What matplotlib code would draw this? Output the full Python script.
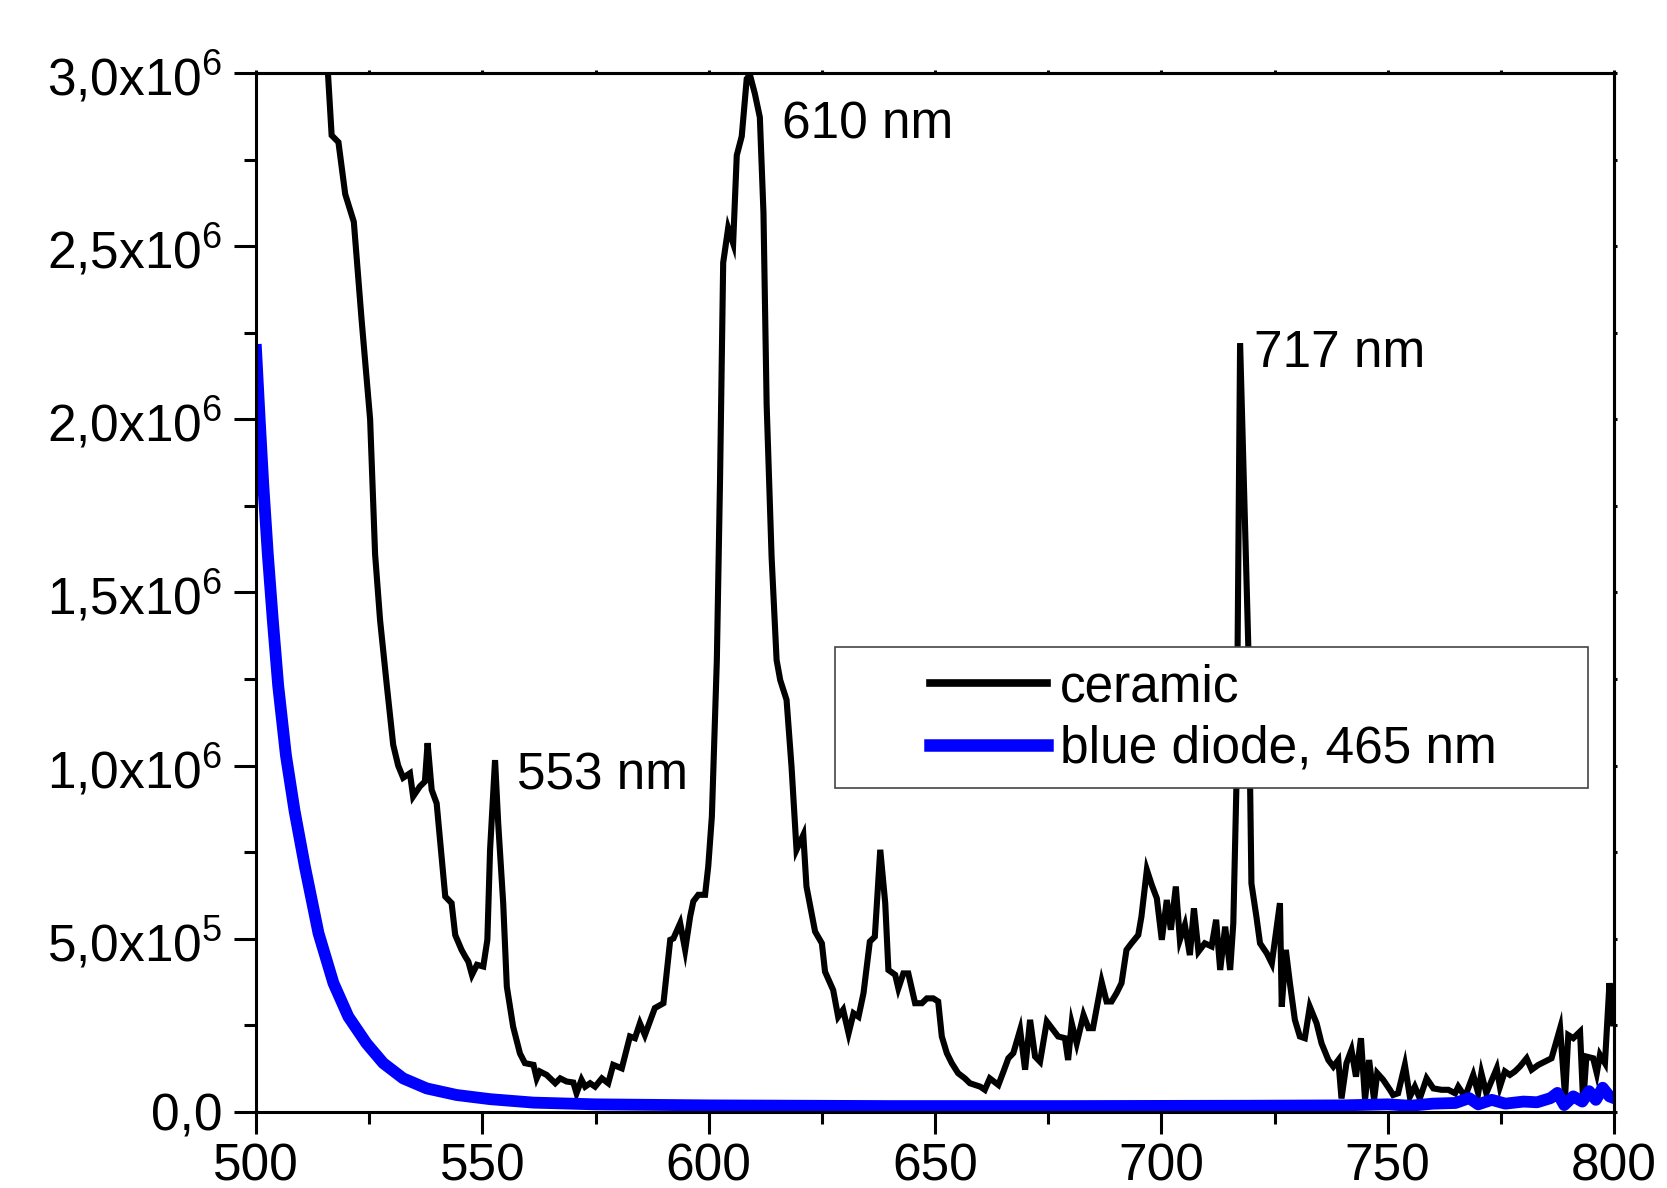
import matplotlib
matplotlib.use("Agg")
import matplotlib.pyplot as plt
from matplotlib.patches import Rectangle
from matplotlib.ticker import MultipleLocator

plt.rcParams['font.family'] = ['Liberation Sans', 'DejaVu Sans']
plt.rcParams['mathtext.default'] = 'regular'

# ---------------- data (intensity in units of 10^6 counts) ----------------
ceramic_nm = [505, 510, 513, 515.2, 516.7, 518.2, 519.7, 521.6, 523.3, 525.2, 526.3, 527.4,
              528.9, 530.3, 531.4, 532.5, 534.0, 534.7, 536.2, 537.3, 537.9, 538.8, 539.9,
              541.8, 543.2, 544.0, 545.4, 546.2, 546.9, 547.7, 548.8, 550.2, 551.1, 551.7,
              552.8, 553.5, 554.6, 555.4, 556.8, 558.3, 559.4, 561.3, 562.0, 562.7, 564.2,
              566.1, 567.2, 568.6, 570.1, 570.8, 571.9, 572.7, 573.8, 574.9, 576.4, 577.8,
              578.9, 580.8, 582.6, 583.7, 584.8, 585.9, 588.1, 590.0, 591.5, 592.2, 593.7,
              594.8, 595.9, 596.6, 597.7, 599.2, 599.9, 600.7, 601.4, 601.8, 602.5, 603.2,
              604.3, 605.4, 606.2, 607.3, 608.4, 609.1, 610.2, 611.3, 612.1, 612.8, 613.9,
              615.0, 615.8, 617.2, 618.3, 619.4, 620.9, 621.6, 623.5, 625.0, 625.7, 627.5,
              628.6, 629.7, 630.9, 632.0, 633.1, 634.2, 635.6, 636.7, 637.9, 639.0, 639.7,
              641.2, 641.9, 643.0, 644.1, 645.6, 647.1, 648.2, 649.6, 650.7, 651.5, 652.6,
              653.7, 655.1, 656.6, 657.7, 660.0, 661.0, 662.1, 664.0, 665.1, 666.2, 667.3,
              668.8, 669.9, 671.0, 672.1, 673.2, 674.7, 675.8, 677.2, 678.7, 679.4, 680.2,
              681.3, 682.8, 683.9, 684.9, 686.8, 687.9, 689.0, 690.1, 691.2, 692.3, 693.4,
              694.9, 695.6, 696.8, 697.9, 699.0, 700.1, 701.2, 702.1, 703.2, 704.1, 705.2,
              706.3, 707.2, 708.2, 709.6, 711.1, 712.1, 713.0, 714.1, 715.2, 715.9, 716.6,
              717.4, 719.2, 719.9, 721.0, 721.8, 723.3, 724.4, 726.2, 726.6, 727.5, 728.4,
              729.5, 730.6, 731.7, 732.8, 734.3, 735.4, 736.9, 738.0, 739.1, 739.8, 740.9,
              742.0, 743.0, 744.1, 745.0, 745.9, 747.0, 747.7, 749.0, 750.5, 751.2, 752.3,
              753.8, 754.9, 756.0, 757.1, 758.6, 760.1, 761.9, 763.4, 764.9, 765.6, 767.1,
              768.9, 770.0, 770.7, 771.8, 774.1, 774.8, 775.9, 777.0, 778.1, 779.2, 780.7,
              781.8, 783.3, 784.7, 786.2, 788.1, 789.2, 789.9, 791.0, 792.5, 793.2, 793.9,
              795.4, 796.2, 796.9, 798.0, 799.0, 799.8]
ceramic_mcounts = [4.6, 4.0, 3.6, 3.15, 2.82, 2.80, 2.65, 2.57, 2.29, 2.00, 1.61, 1.42,
                   1.23, 1.06, 1.00, 0.965, 0.978, 0.911, 0.94, 0.954, 1.065, 0.93, 0.891,
                   0.622, 0.603, 0.511, 0.468, 0.449, 0.434, 0.396, 0.425, 0.420, 0.497, 0.757,
                   1.016, 0.833, 0.603, 0.362, 0.246, 0.169, 0.141, 0.136, 0.097, 0.117, 0.107,
                   0.083, 0.097, 0.088, 0.085, 0.054, 0.093, 0.073, 0.083, 0.073, 0.097, 0.083,
                   0.136, 0.126, 0.218, 0.213, 0.256, 0.222, 0.300, 0.314, 0.497, 0.501, 0.545,
                   0.468, 0.564, 0.608, 0.627, 0.627, 0.709, 0.853, 1.142, 1.305, 1.822, 2.452,
                   2.552, 2.508, 2.762, 2.817, 2.983, 2.995, 2.94, 2.872, 2.596, 2.043, 1.601,
                   1.305, 1.247, 1.190, 0.997, 0.757, 0.800, 0.651, 0.521, 0.487, 0.405, 0.352,
                   0.275, 0.295, 0.227, 0.285, 0.275, 0.343, 0.492, 0.506, 0.757, 0.603, 0.410,
                   0.396, 0.357, 0.400, 0.400, 0.314, 0.314, 0.328, 0.328, 0.319, 0.218, 0.170,
                   0.141, 0.112, 0.097, 0.083, 0.073, 0.064, 0.097, 0.078, 0.116, 0.155, 0.170,
                   0.237, 0.122, 0.266, 0.160, 0.145, 0.261, 0.242, 0.218, 0.213, 0.150, 0.256,
                   0.198, 0.280, 0.242, 0.242, 0.376, 0.319, 0.319, 0.343, 0.372, 0.468, 0.487,
                   0.511, 0.564, 0.699, 0.655, 0.617, 0.497, 0.612, 0.526, 0.651, 0.497, 0.540,
                   0.453, 0.588, 0.463, 0.487, 0.478, 0.555, 0.410, 0.535, 0.410, 0.545, 0.95,
                   2.22, 1.35, 0.66, 0.564, 0.487, 0.458, 0.429, 0.603, 0.304, 0.468, 0.372,
                   0.266, 0.218, 0.213, 0.304, 0.256, 0.198, 0.150, 0.131, 0.150, 0.039, 0.141,
                   0.179, 0.102, 0.213, 0.035, 0.150, 0.035, 0.112, 0.093, 0.064, 0.049, 0.054,
                   0.136, 0.044, 0.073, 0.039, 0.097, 0.068, 0.064, 0.064, 0.054, 0.073, 0.044,
                   0.107, 0.054, 0.112, 0.054, 0.126, 0.073, 0.117, 0.107, 0.117, 0.131, 0.155,
                   0.122, 0.136, 0.145, 0.155, 0.242, 0.044, 0.222, 0.213, 0.232, 0.025, 0.160,
                   0.155, 0.112, 0.165, 0.141, 0.372, 0.256]

blue_nm = [500, 500.8, 501.6, 502.6, 503.7, 504.9, 506.6, 508.5, 510.8, 513.8, 517.1, 520.4,
           524.4, 528.1, 532.5, 537.7, 544.3, 551.7, 561.3, 575, 600, 640, 680, 720, 740,
           750, 755, 760, 765, 768, 770, 773, 776, 780, 783, 786, 787.5, 789, 791, 793,
           794.5, 796, 797.5, 799, 800]
blue_mcounts = [2.20, 2.00, 1.81, 1.61, 1.42, 1.23, 1.03, 0.87, 0.708, 0.516, 0.372, 0.275,
                0.198, 0.141, 0.097, 0.068, 0.049, 0.037, 0.027, 0.022, 0.019, 0.017, 0.017,
                0.018, 0.019, 0.022, 0.018, 0.024, 0.026, 0.040, 0.022, 0.035, 0.024, 0.030,
                0.028, 0.040, 0.055, 0.020, 0.045, 0.030, 0.060, 0.035, 0.070, 0.045, 0.040]

series_labels = ['ceramic', 'blue diode, 465 nm']
peak_labels = ['553 nm', '610 nm', '717 nm']
peak_label_pos_nm = [557.6, 616.2, 720.5]
peak_label_pos_mcounts = [0.93, 2.81, 2.15]

x_ticks = [500, 550, 600, 650, 700, 750, 800]
x_tick_labels = ['500', '550', '600', '650', '700', '750', '800']
y_ticks = [0, 0.5e6, 1.0e6, 1.5e6, 2.0e6, 2.5e6, 3.0e6]
y_tick_labels = ['0,0', '5,0x10$^{5}$', '1,0x10$^{6}$', '1,5x10$^{6}$',
                 '2,0x10$^{6}$', '2,5x10$^{6}$', '3,0x10$^{6}$']

# ---------------- figure ----------------
fig = plt.figure(figsize=(16.67, 11.88), dpi=100)
ax = fig.add_axes([0.1536, 0.0640, 0.8146, 0.8746])

ax.plot(ceramic_nm, [v * 1e6 for v in ceramic_mcounts], color='black', lw=4.4,
        solid_joinstyle='miter', label=series_labels[0], zorder=2)
ax.plot(blue_nm, [v * 1e6 for v in blue_mcounts], color='#0000ff', lw=8.5,
        solid_joinstyle='round', label=series_labels[1], zorder=2.5)

ax.set_xlim(500, 800)
ax.set_ylim(0, 3.0e6)

ax.set_xticks(x_ticks)
ax.set_xticklabels(x_tick_labels)
ax.set_yticks(y_ticks)
ax.set_yticklabels(y_tick_labels)
ax.xaxis.set_minor_locator(MultipleLocator(25))
ax.yaxis.set_minor_locator(MultipleLocator(2.5e5))
ax.tick_params(which='major', direction='out', length=16, width=2.2, labelsize=37)
ax.tick_params(which='minor', direction='out', length=8.6, width=2.2)
ax.tick_params(axis='y', pad=8)
ax.tick_params(axis='x', pad=6)
for s in ax.spines.values():
    s.set_linewidth(2.2)

# tiny ticks on the top and right axes
secx = ax.secondary_xaxis('top')
secx.set_xticks(x_ticks)
secx.xaxis.set_minor_locator(MultipleLocator(25))
secx.tick_params(which='both', direction='out', length=2.5, width=2.2, labeltop=False)
secx.spines['top'].set_linewidth(2.2)
secy = ax.secondary_yaxis('right')
secy.set_yticks(y_ticks)
secy.yaxis.set_minor_locator(MultipleLocator(2.5e5))
secy.tick_params(which='both', direction='out', length=2.5, width=2.2, labelright=False)
secy.spines['right'].set_linewidth(2.2)

for lab, xn, yv in zip(peak_labels, peak_label_pos_nm, peak_label_pos_mcounts):
    ax.text(xn, yv * 1e6, lab, fontsize=37, va='baseline', ha='left', zorder=4)

# legend box
ax.add_patch(Rectangle((0.4264, 0.3118), 0.5545, 0.1357, transform=ax.transAxes,
                       facecolor='white', edgecolor='#444444', lw=1.2, zorder=3))
leg = ax.legend(loc='center left', bbox_to_anchor=(0.4963, 0.3787), frameon=False,
                fontsize=37, borderpad=0, handlelength=2.28, handletextpad=0.25,
                labelspacing=0.25, borderaxespad=0)
leg.set_zorder(5)
leg.get_lines()[0].set_linewidth(5.5)
leg.get_lines()[1].set_linewidth(9.0)

fig.savefig('out.png', dpi=100)
